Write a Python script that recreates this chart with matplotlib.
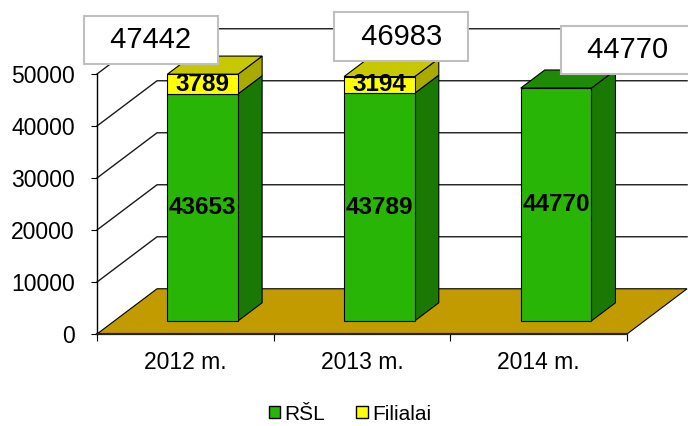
import matplotlib
matplotlib.use('Agg')
import matplotlib.pyplot as plt
from matplotlib.patches import Polygon, Patch
import numpy as np

# --- data ---
years = ['2012 m.', '2013 m.', '2014 m.']
rsl = [43653, 43789, 44770]
filialai = [3789, 3194, 0]
totals = [47442, 46983, 44770]
y_ticks = [0, 10000, 20000, 30000, 40000, 50000]

# --- pseudo 3D look ---
DX, DY = 0.34, 8700      # offset of the back wall (data units)
F0, F1 = 0.29, 0.69      # bar front / back as share of floor depth
HALF_W = 0.2
green = dict(front='#29B505', side='#1A7805', top='#1F8A06')
yellow = dict(front='#FFFF00', side='#A9A900', top='#C8C800')
callout_off = [(-52, 34), (22, 40), (72, 38)]  # px from bar top

plt.rcParams['font.family'] = ['Liberation Sans', 'DejaVu Sans']

fig = plt.figure(figsize=(6.88, 4.26), dpi=100)
ax = fig.add_axes([97/688, 92/426, 530/688, 260/426])
ax.patch.set_visible(False)
n = len(years)
ax.set_xlim(0, n)
ax.set_ylim(0, y_ticks[-1])

# floor
ax.add_patch(Polygon([(0, 0), (n, 0), (n + DX, DY), (DX, DY)], closed=True,
                     fc='#C29B00', ec='black', lw=0.8, clip_on=False, zorder=1))
# side wall + back wall grid
for v in y_ticks[1:]:
    ax.plot([0, DX, n + DX], [v, v + DY, v + DY], color='#1a1a1a', lw=1,
            clip_on=False, zorder=1)


def cuboid(x0, y0, y1, col, top):
    x1 = x0 + 2 * HALF_W
    ddx = (F1 - F0) * DX
    ddy = (F1 - F0) * DY
    kw = dict(closed=True, ec='black', lw=0.8, clip_on=False, zorder=3)
    ax.add_patch(Polygon([(x1, y0), (x1 + ddx, y0 + ddy), (x1 + ddx, y1 + ddy), (x1, y1)],
                         fc=col['side'], **kw))
    if top:
        ax.add_patch(Polygon([(x0, y1), (x1, y1), (x1 + ddx, y1 + ddy), (x0 + ddx, y1 + ddy)],
                             fc=col['top'], **kw))
    ax.add_patch(Polygon([(x0, y0), (x1, y0), (x1, y1), (x0, y1)], fc=col['front'], **kw))


base = F0 * DY
for i in range(n):
    xc = i + 0.5 + F0 * DX
    x0 = xc - HALF_W
    g, yv = rsl[i], filialai[i]
    cuboid(x0, base, base + g, green, top=(yv == 0))
    ax.text(xc, base + g / 2, str(g), ha='center', va='center', fontsize=17.5,
            fontweight='bold', zorder=5)
    if yv > 0:
        cuboid(x0, base + g, base + g + yv, yellow, top=True)
        ax.text(xc, base + g + yv / 2, str(yv), ha='center', va='center', fontsize=17.5,
                fontweight='bold', zorder=5)
    ox, oy = callout_off[i]
    ax.annotate(f'  {totals[i]}  ', xy=(xc, base + totals[i]),
                xytext=(ox * 0.72, oy * 0.72), textcoords='offset points',
                ha='center', va='center', fontsize=21,
                bbox=dict(boxstyle='square,pad=0.35', fc='white', ec='#BFBFBF', lw=1.5),
                annotation_clip=False, zorder=10)

# axes
for s in ['top', 'right']:
    ax.spines[s].set_visible(False)
ax.spines['left'].set_linewidth(1)
ax.spines['bottom'].set_linewidth(1.6)
ax.spines['bottom'].set_color('#222222')
ax.set_yticks(y_ticks)
ax.tick_params(axis='y', direction='out', length=4, pad=12, labelsize=16.5)
ax.set_xticks(range(n + 1))
ax.set_xticklabels([])
ax.set_xticks(np.arange(n) + 0.5, minor=True)
ax.set_xticklabels(years, minor=True)
ax.tick_params(axis='x', which='major', direction='out', length=5)
ax.tick_params(axis='x', which='minor', length=0, pad=12, labelsize=16.5)

handles = [Patch(fc=green['front'], ec='black', label='RŠL'),
           Patch(fc=yellow['front'], ec='black', label='Filialai')]
fig.legend(handles=handles, loc='center', bbox_to_anchor=(350/688, 1 - 414/426),
           ncol=2, frameon=False, fontsize=15, handlelength=0.55, handleheight=0.55,
           handletextpad=0.2, columnspacing=1.5, borderpad=0)

fig.savefig('out.png', dpi=100)
